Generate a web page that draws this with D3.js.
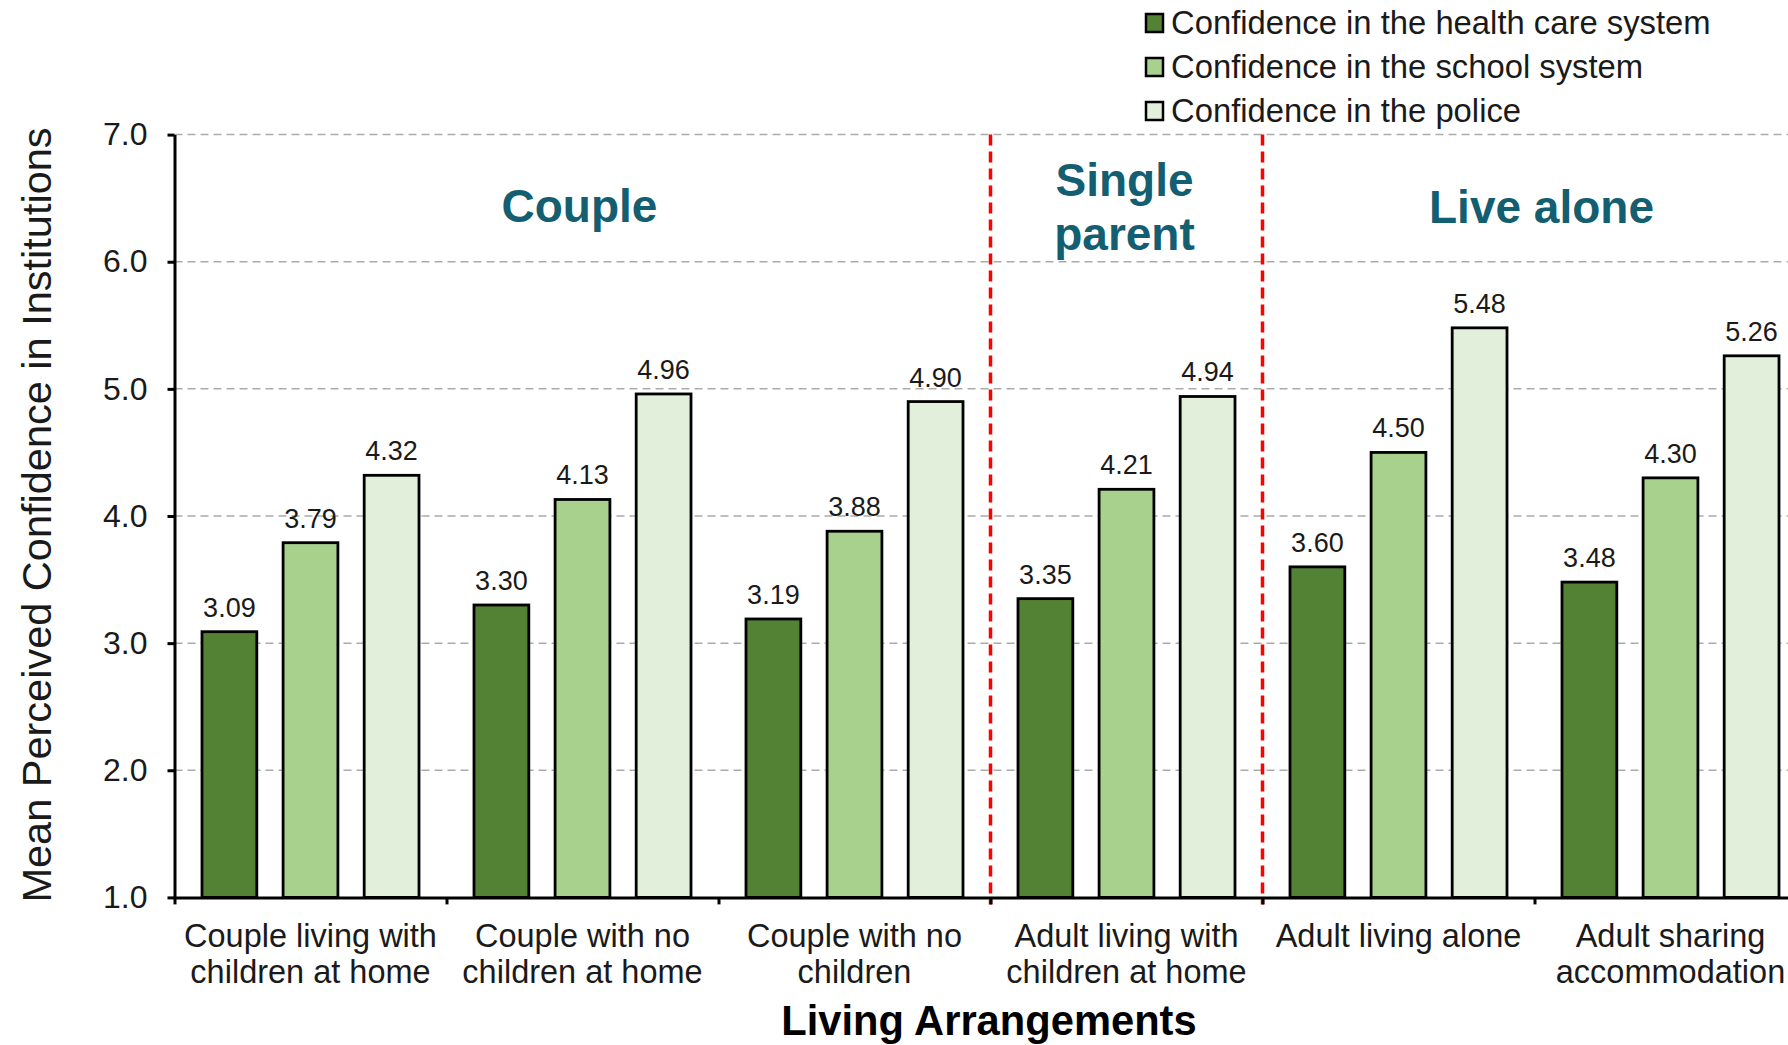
<!DOCTYPE html>
<html>
<head>
<meta charset="utf-8">
<script src="https://cdn.jsdelivr.net/npm/d3@7"></script>
<style>
  html, body { margin: 0; padding: 0; background: #ffffff; }
  svg { display: block; font-family: "Liberation Sans", Arial, sans-serif; }
</style>
</head>
<body>
<svg id="chart" width="1788" height="1045"></svg>
<script>
// Living arrangement categories (each label split over two lines)
const categories = [
  ["Couple living with", "children at home"],
  ["Couple with no", "children at home"],
  ["Couple with no", "children"],
  ["Adult living with", "children at home"],
  ["Adult living alone"],
  ["Adult sharing", "accommodation"]
];

// Mean perceived confidence, one value per category
const healthCare = [3.09, 3.30, 3.19, 3.35, 3.60, 3.48];
const schoolSystem = [3.79, 4.13, 3.88, 4.21, 4.50, 4.30];
const police = [4.32, 4.96, 4.90, 4.94, 5.48, 5.26];

const seriesNames = [
  "Confidence in the health care system",
  "Confidence in the school system",
  "Confidence in the police"
];
const seriesColors = ["#548235", "#A9D18E", "#E2EFDA"];

const yTicks = [1, 2, 3, 4, 5, 6, 7];

// Household groups: label lines and the first/last category they cover
const groupLabels = [["Couple"], ["Single", "parent"], ["Live alone"]];
const groupSpans = [[0, 2], [3, 3], [4, 5]];

const yTitle = "Mean Perceived Confidence in Institutions";
const xTitle = "Living Arrangements";

// ---------------------------------------------------------------------
const svg = d3.select("#chart");
const W = 1788, H = 1045;
const plotLeft = 174.5, plotTop = 134.6, plotBottom = 897.4;
const bandW = 272;

const seriesValues = [healthCare, schoolSystem, police];
const rows = categories.map((c, i) => ({
  i,
  values: seriesValues.map((arr, s) => ({ s, v: arr[i] }))
}));

const y = d3.scaleLinear().domain([1, 7]).range([plotBottom, plotTop]);
const x0 = d3.scaleBand().domain(d3.range(categories.length))
  .range([plotLeft, plotLeft + bandW * categories.length]).padding(0);
const x1 = d3.scaleBand().domain(d3.range(seriesNames.length))
  .range([0, x0.bandwidth()]).paddingInner(0.324).paddingOuter(0.339);
const xEdge = d3.scaleLinear().domain([0, categories.length])
  .range([plotLeft, plotLeft + bandW * categories.length]);

// Horizontal dashed gridlines
svg.append("g").selectAll("line")
  .data(yTicks.filter(t => t > 1))
  .join("line")
  .attr("x1", plotLeft).attr("x2", W)
  .attr("y1", d => y(d)).attr("y2", d => y(d))
  .attr("stroke", "#ABABAB").attr("stroke-width", 1.5)
  .attr("stroke-dasharray", "8,5");

// Bars
const groups = svg.append("g").selectAll("g")
  .data(rows).join("g")
  .attr("transform", d => `translate(${x0(d.i)},0)`);

groups.selectAll("rect")
  .data(d => d.values).join("rect")
  .attr("x", d => x1(d.s))
  .attr("width", x1.bandwidth())
  .attr("y", d => y(d.v))
  .attr("height", d => y(1) - y(d.v))
  .attr("fill", d => seriesColors[d.s])
  .attr("stroke", "#000").attr("stroke-width", 2.8);

// Value labels above the bars
groups.selectAll("text.val")
  .data(d => d.values).join("text")
  .attr("class", "val")
  .attr("x", d => x1(d.s) + x1.bandwidth() / 2)
  .attr("y", d => y(d.v) - 15)
  .attr("text-anchor", "middle")
  .attr("font-size", 27)
  .attr("fill", "#1a1a1a")
  .text(d => d.v.toFixed(2));

// Red dashed separators between household groups
const separators = groupSpans.slice(1).map(s => s[0]);
svg.append("g").selectAll("line")
  .data(separators).join("line")
  .attr("x1", d => xEdge(d)).attr("x2", d => xEdge(d))
  .attr("y1", plotTop).attr("y2", plotBottom + 7)
  .attr("stroke", "#FF0000").attr("stroke-width", 3.5)
  .attr("stroke-dasharray", "11,6");

// Y axis
const yAxis = svg.append("g")
  .attr("transform", `translate(${plotLeft},0)`)
  .call(d3.axisLeft(y).tickValues(yTicks).tickFormat(d3.format(".1f"))
    .tickSize(7).tickSizeOuter(0).tickPadding(20));
yAxis.select(".domain").attr("stroke", "#000").attr("stroke-width", 3);
yAxis.selectAll(".tick line").attr("stroke", "#000").attr("stroke-width", 3);
yAxis.selectAll(".tick text")
  .attr("font-size", 32).attr("fill", "#1a1a1a")
  .attr("font-family", "Liberation Sans, Arial, sans-serif");

// X axis with ticks at category boundaries
const xAxis = svg.append("g")
  .attr("transform", `translate(0,${plotBottom})`)
  .call(d3.axisBottom(xEdge).tickValues(d3.range(categories.length + 1))
    .tickFormat("").tickSize(7).tickSizeOuter(0));
xAxis.select(".domain").attr("stroke", "#000").attr("stroke-width", 3);
xAxis.selectAll(".tick line").attr("stroke", "#000").attr("stroke-width", 3);

// Category labels
const catLabels = svg.append("g").selectAll("text")
  .data(categories.map((lines, i) => ({ lines, i })))
  .join("text")
  .attr("text-anchor", "middle")
  .attr("font-size", 32.5)
  .attr("fill", "#1a1a1a");
catLabels.selectAll("tspan")
  .data(d => d.lines.map(l => ({ l, i: d.i })))
  .join("tspan")
  .attr("x", d => x0(d.i) + x0.bandwidth() / 2)
  .attr("y", (d, k) => 947 + k * 36)
  .text(d => d.l);

// Group headings
const groupBaseline = [222, 196, 223];
const groupNudge = [-3, -2, 7];
const gl = svg.append("g").selectAll("text")
  .data(groupLabels.map((lines, g) => ({ lines, g })))
  .join("text")
  .attr("text-anchor", "middle")
  .attr("font-size", 46).attr("font-weight", "bold")
  .attr("fill", "#135E70");
gl.selectAll("tspan")
  .data(d => d.lines.map(l => ({ l, g: d.g })))
  .join("tspan")
  .attr("x", d => (xEdge(groupSpans[d.g][0]) + xEdge(groupSpans[d.g][1] + 1)) / 2 + groupNudge[d.g])
  .attr("y", (d, k) => groupBaseline[d.g] + k * 54)
  .text(d => d.l);

// Axis titles
svg.append("text")
  .attr("transform", "translate(51,515) rotate(-90)")
  .attr("text-anchor", "middle")
  .attr("font-size", 41.5)
  .attr("fill", "#1a1a1a")
  .text(yTitle);

svg.append("text")
  .attr("x", 989).attr("y", 1035)
  .attr("text-anchor", "middle")
  .attr("font-size", 41.7).attr("font-weight", "bold")
  .attr("fill", "#000")
  .text(xTitle);

// Legend
const legend = svg.append("g").selectAll("g")
  .data(seriesNames.map((n, s) => ({ n, s })))
  .join("g")
  .attr("transform", d => `translate(1146,${23 + d.s * 44})`);
legend.append("rect")
  .attr("x", 0).attr("y", -9).attr("width", 17).attr("height", 18)
  .attr("fill", d => seriesColors[d.s])
  .attr("stroke", "#000").attr("stroke-width", 2.5);
legend.append("text")
  .attr("x", 25).attr("y", 0).attr("dy", "0.35em")
  .attr("font-size", 32.8).attr("fill", "#1a1a1a")
  .text(d => d.n);
</script>
</body>
</html>
